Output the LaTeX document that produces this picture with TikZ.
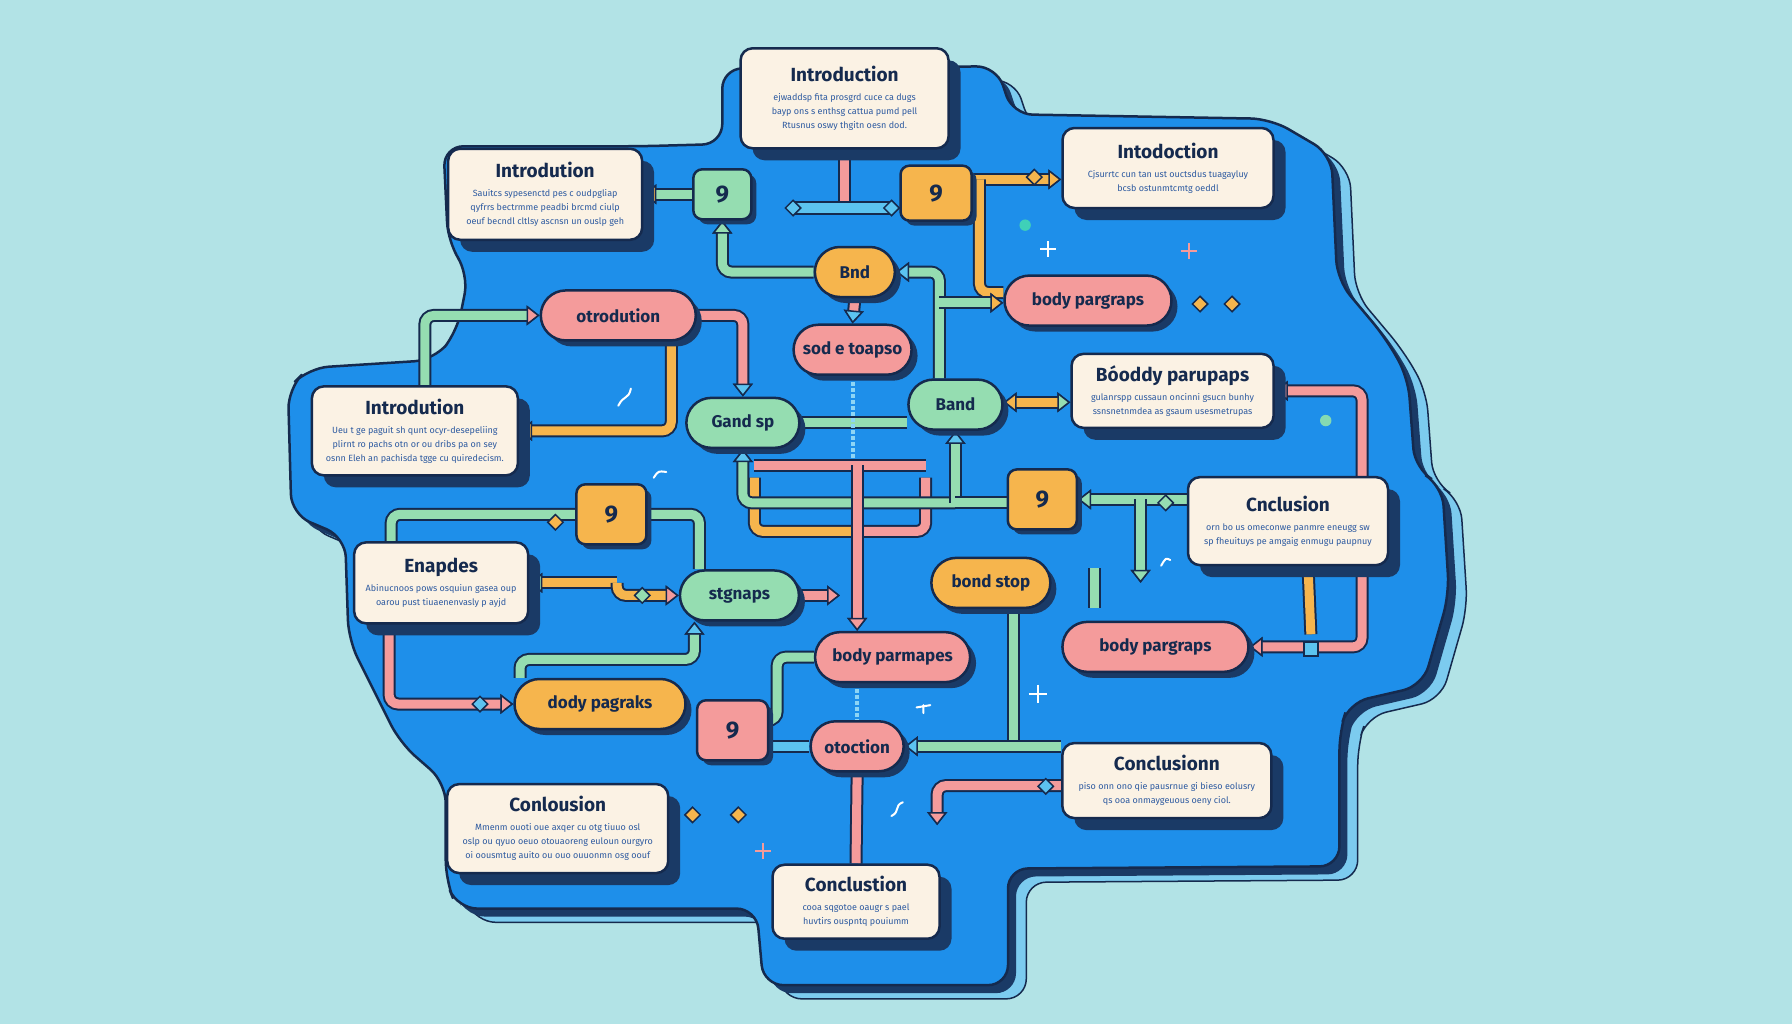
\documentclass[tikz,border=0pt]{standalone}
\usepackage{fontspec}
\setmainfont{Fira Sans}
\usetikzlibrary{arrows.meta,shapes.geometric,shapes.misc,shadows,backgrounds}

\definecolor{bgc}{HTML}{B2E3E6}
\definecolor{blobc}{HTML}{1E8FEA}
\definecolor{navy}{HTML}{152A4E}
\definecolor{shadowc}{HTML}{1A3A66}
\definecolor{layerc}{HTML}{7CCBEF}
\definecolor{cream}{HTML}{FBF2E4}
\definecolor{greenc}{HTML}{95DDB1}
\definecolor{orangec}{HTML}{F6B54D}
\definecolor{pinkc}{HTML}{F49B9B}
\definecolor{cyanc}{HTML}{5CC3F0}
\definecolor{textc}{HTML}{2D5AA0}
\definecolor{dotc}{HTML}{3FD0B8}

\newcommand{\titlefont}{\fontsize{19}{21}\selectfont\bfseries}
\newcommand{\bodyfont}{\fontsize{9}{14}\selectfont}
\newcommand{\pillfont}{\fontsize{17}{19}\selectfont\bfseries}
\newcommand{\cardtitle}[1]{{\color{navy}\titlefont #1}\\[5pt]}

% outline of the blue backdrop
\newcommand{\blobpath}{(388,128) -- (560,128) -- (632,126) -- (632,60) -- (872,58) -- (886,100) -- (1112,104) -- (1165,135) -- (1170,245) -- (1212,295) -- (1232,330) -- (1238,410) -- (1262,425) -- (1268,520) -- (1245,600) -- (1180,615) -- (1172,640) -- (1172,758) -- (882,760) -- (882,862) -- (668,862) -- (662,795) -- (400,795) -- (390,770) -- (390,685) -- (350,650) -- (305,560) -- (302,470) -- (255,450) -- (252,340) -- (270,322) -- (380,315) -- (400,290) -- (410,240) -- (392,212) -- cycle}

\tikzset{
  card/.style 2 args={draw=navy, line width=2.5pt, fill=cream, rounded corners=12pt,
    minimum width=#1, minimum height=#2, align=center, font=\bodyfont, text=textc,
    drop shadow={shadow xshift=12pt, shadow yshift=-12pt, fill=shadowc, opacity=1}},
  pill/.style={rounded rectangle, draw=navy, line width=2.5pt, fill=#1, minimum height=50pt,
    inner xsep=8pt, font=\pillfont, text=navy,
    drop shadow={shadow xshift=6pt, shadow yshift=-6pt, fill=shadowc, opacity=1}},
  nine/.style={draw=navy, line width=2.5pt, fill=#1, rounded corners=9pt, minimum width=66pt,
    minimum height=56pt, font=\fontsize{24}{24}\selectfont\bfseries, text=navy,
    drop shadow={shadow xshift=5pt, shadow yshift=-5pt, fill=shadowc, opacity=1}},
  dmd/.style={diamond, draw=navy, line width=1.5pt, fill=#1, minimum size=16pt, inner sep=0pt},
  pipe/.style={draw=#1, line width=9pt, rounded corners=9pt, preaction={draw=navy, line width=13pt}},
  tip/.style={-{Triangle[length=13pt,width=20pt,line width=1.5pt,color=navy,fill=#1]}},
}

\begin{document}
\begin{tikzpicture}[x=1.142857pt,y=-1.142857pt]
\useasboundingbox (0,0) rectangle (1568,896);

% cards
\node[card={208pt}{100pt}] (c1) at (739,86) {\cardtitle{Introduction}ejwaddsp fita prosgrd cuce ca dugs\\ bayp ons s enthsg cattua pumd pell\\ Rtusnus oswy thgitn oesn dod.};
\node[card={194pt}{91pt}] (c2) at (477,170) {\cardtitle{Introdution}Sauitcs sypesenctd pes c oudpgliap\\ qyfrrs bectrmme peadbi brcmd ciulp\\ oeuf becndl cltlsy ascnsn un ouslp geh};
\node[card={211pt}{80pt}] (c3) at (1022,147) {\cardtitle{Intodoction}Cjsurrtc cun tan ust ouctsdus tuagayluy\\ bcsb ostunmtcmtg oeddl};
\node[card={206pt}{89pt}] (c4) at (363,377) {\cardtitle{Introdution}Ueu t ge paguit sh qunt ocyr-desepeliing\\ plirnt ro pachs otn or ou dribs pa on sey\\ osnn Eleh an pachisda tgge cu quiredecism.};
\node[card={202pt}{74pt}] (c5) at (1026,342) {\cardtitle{Bóoddy parupaps}gulanrspp cussaun oncinni gsucn bunhy\\ ssnsnetnmdea as gsaum usesmetrupas};
\node[card={200pt}{88pt}] (c6) at (1127,456) {\cardtitle{Cnclusion}orn bo us omeconwe panmre eneugg sw\\ sp fheuituys pe amgaig enmugu paupnuy};
\node[card={174pt}{81pt}] (c7) at (386,510) {\cardtitle{Enapdes}Abinucnoos pows osquiun gasea oup\\ oarou pust tiuaenenvasly p ayjd};
\node[card={209pt}{75pt}] (c8) at (1021,683) {\cardtitle{Conclusionn}piso onn ono qie pausrnue gi bieso eolusry\\ qs ooa onmaygeuous oeny ciol.};
\node[card={221pt}{89pt}] (c9) at (488,725) {\cardtitle{Conlousion}Mmenm ouoti oue axqer cu otg tiuuo osl\\ oslp ou qyuo oeuo otouaoreng euloun ourgyro\\ oi oousmtug auito ou ouo ouuonmn osg oouf};
\node[card={167pt}{74pt}] (c10) at (749,789) {\cardtitle{Conclustion}cooa sqgotoe oaugr s pael\\ huvtirs ouspntq pouiumm};

% pills
\node[pill=orangec, minimum width=96pt] (bnd) at (748,238) {Bnd};
\node[pill=pinkc, minimum width=183pt] (bodyA) at (952,263) {body pargraps};
\node[pill=pinkc, minimum width=171pt] (otro) at (541,276) {otrodution};
\node[pill=pinkc, minimum width=134pt] (sode) at (746,306) {sod e toapso};
\node[pill=greenc, minimum width=129pt] (gand) at (650,370) {Gand sp};
\node[pill=greenc, minimum width=110pt] (band) at (836,354) {Band};
\node[pill=greenc, minimum width=135pt] (stg) at (647,521) {stgnaps};
\node[pill=orangec, minimum width=135pt] (bondstop) at (867,510) {bond stop};
\node[pill=pinkc, minimum width=202pt] (bodyB) at (1011,566) {body pargraps};
\node[pill=pinkc, minimum width=171pt] (bodyC) at (781,575) {body parmapes};
\node[pill=orangec, minimum width=187pt] (dody) at (525,616) {dody pagraks};
\node[pill=pinkc, minimum width=109pt] (otoc) at (750,653) {otoction};

% nines
\node[nine=greenc, minimum width=58pt, minimum height=50pt] (n1) at (632,170) {9};
\node[nine=orangec, minimum width=71pt, minimum height=55pt] (n2) at (819,169) {9};
\node[nine=orangec, minimum width=70pt, minimum height=60pt] (n3) at (535,450) {9};
\node[nine=orangec, minimum width=69pt, minimum height=60pt] (n4) at (912,437) {9};
\node[nine=pinkc, minimum width=71pt, minimum height=60pt] (n5) at (641,639) {9};

\node[draw=navy, line width=1.5pt, fill=cyanc, minimum width=97pt, minimum height=12pt, inner sep=0pt] (bar) at (737,182) {};
\node[draw=navy, line width=1.5pt, fill=cyanc, minimum size=14pt, inner sep=0pt] (sq) at (1147,568) {};

\coordinate (oj) at (857,157);
\coordinate (gj) at (822,265);
\coordinate (mj) at (911,352);
\coordinate (fb) at (836,440);
\coordinate (tl) at (660,407);
\coordinate (tr) at (810,407);
\coordinate (tm) at (750,407);
\coordinate (ua) at (660,418);
\coordinate (um) at (750,465);
\coordinate (ub) at (810,418);
\coordinate (sj) at (540,510);
\coordinate (se) at (735,521);
\coordinate (gk) at (680,575);
\coordinate (pe) at (820,722);
\coordinate (gv) at (998,437);
\coordinate (gd) at (998,510);
\coordinate (oq) at (1147,555);
\coordinate (gs1) at (958,497);
\coordinate (gs2) at (958,532);

\begin{scope}[on background layer]
\fill[bgc] (0,0) rectangle (1568,896);
\filldraw[fill=layerc, draw=navy, line width=1.5pt, rounded corners=20pt, shift={(16,12)}] \blobpath;
\fill[shadowc, rounded corners=20pt, shift={(7,7)}] \blobpath;
\filldraw[fill=blobc, draw=navy, line width=2.5pt, rounded corners=20pt] \blobpath;

% connectors
\draw[pipe=pinkc] (c1.south) -- (c1.south |- bar.north);
\draw[pipe=greenc, tip=orangec] (n1.west) -- (c2.east);
\draw[pipe=greenc, tip=greenc] (bnd.west) -| (n1.south);
\draw[pipe=pinkc, tip=cyanc] (bnd.south) -- (sode.north);
\draw[pipe=orangec, tip=orangec] (n2.east |- oj) -- (c3.west |- oj);
\draw[pipe=orangec] (oj) |- ([yshift=8pt]bodyA.west);
\draw[pipe=greenc, tip=cyanc] (band.north -| gj) |- (bnd.east);
\draw[pipe=greenc, tip=orangec] (gj) -- (gj -| bodyA.west);
\draw[pipe=pinkc, tip=cyanc] (otro.east) -| (gand.north);
\draw[pipe=greenc, tip=pinkc] ([xshift=10pt]c4.north) |- (otro.west);
\draw[pipe=orangec, tip=orangec] ([xshift=53pt]otro.south) |- (c4.east);
\draw[pipe=greenc] (gand.east) -- (gand.east -| band.west);
\draw[cyanc!70, line width=4pt, dotted] (sode.south) -- ++(0,72);
\draw[pipe=orangec] (ua) |- (um);
\draw[pipe=pinkc] (um) -| (ub);
\draw[pipe=greenc, tip=cyanc] (fb) -| (gand.south);
\draw[pipe=greenc, tip=cyanc] (fb) -- (band.south);
\draw[pipe=greenc] (fb) -- (n4.west |- fb);
\draw[pipe=pinkc] (tl) -- (tr);
\draw[pipe=pinkc, tip=pinkc] (tm) -- (tm |- bodyC.north);
\draw[pipe=greenc] ([xshift=-50pt]c7.north) |- (n3.west);
\draw[pipe=greenc] (n3.east) -| ([xshift=-40pt]stg.north);
\draw[pipe=orangec, tip=greenc] (sj) -- (c7.east);
\draw[pipe=orangec, tip=pinkc] (sj) |- (stg.west);
\draw[pipe=pinkc, tip=pinkc] (stg.east) -- (se);
\draw[pipe=greenc, tip=cyanc] ([xshift=-80pt]dody.north) -- ++(0,-16) -| ([xshift=-45pt]stg.south);
\draw[pipe=pinkc, tip=pinkc] ([xshift=-52pt]c7.south) |- (dody.west);
\draw[pipe=greenc] (bodyC.west) -- (gk) |- ([yshift=10pt]n5.east);
\draw[pipe=cyanc] (n5.east |- otoc.west) -- (otoc.west);
\draw[cyanc!70, line width=4pt, dotted] (bodyC.south -| otoc.north) -- (otoc.north);
\draw[pipe=pinkc] (otoc.south) -- (c10.north);
\draw[pipe=greenc] ([xshift=23pt]bondstop.south) -- ([xshift=23pt]bondstop.south |- otoc.east);
\draw[pipe=greenc, tip=cyanc] (c8.west |- otoc.east) -- (otoc.east);
\draw[pipe=pinkc, tip=pinkc] ([yshift=-5pt]c8.west) -| (pe);
\draw[pipe=pinkc, tip=pinkc] ([xshift=74pt]c6.south) |- (bodyB.east);
\draw[pipe=orangec] ([xshift=20pt]c6.south) -- (oq);
\draw[pipe=pinkc, tip=pinkc] ([xshift=74pt]c6.north) |- (c5.east);
\draw[pipe=orangec, tip=orangec] (mj) -- (band.east |- mj);
\draw[pipe=orangec, tip=greenc] (mj) -- (c5.west |- mj);
\draw[pipe=greenc, tip=greenc] (c6.west |- n4.east) -- (n4.east);
\draw[pipe=greenc, tip=greenc] (gv) -- (gd);
\draw[pipe=greenc] (gs1) -- (gs2);
\end{scope}

% small marks
\node[dmd=cyanc] (bw) at (bar.west) {};
\node[dmd=cyanc] (be) at (bar.east) {};
\node[dmd=orangec] (d1) at (905,155) {};
\node[dmd=orangec] (d2) at (1050,266) {};
\node[dmd=orangec] (d3) at (1078,266) {};
\node[dmd=orangec] (d4) at (486,457) {};
\node[dmd=greenc] (d5) at (562,521) {};
\node[dmd=cyanc] (d6) at (420,616) {};
\node[dmd=cyanc] (d7) at (915,688) {};
\node[dmd=orangec] (d8) at (606,713) {};
\node[dmd=orangec] (d9) at (646,713) {};
\node[dmd=greenc] (d10) at (1020,440) {};

\fill[dotc] (897,197) circle (5);
\fill[greenc!80!dotc] (1160,368) circle (5);
\draw[white, line width=2pt] (910,218) -- (924,218) (917,211) -- (917,225);
\draw[pinkc, line width=2pt] (1033,220) -- (1047,220) (1040,213) -- (1040,227);
\draw[white, line width=2pt] (900,607) -- (916,607) (908,599) -- (908,615);
\draw[pinkc, line width=2pt] (661,745) -- (675,745) (668,738) -- (668,752);
\draw[white, line width=2pt, line cap=round] (541,355) .. controls (546,345) and (550,350) .. (552,340);
\draw[white, line width=2pt, line cap=round] (572,418) .. controls (576,412) .. (583,413);
\draw[white, line width=2pt, line cap=round] (1016,495) .. controls (1020,488) .. (1024,490);
\draw[white, line width=2pt, line cap=round] (802,619) -- (814,617) (808,617) -- (808,624);
\draw[white, line width=2pt, line cap=round] (780,714) .. controls (788,710) and (782,705) .. (790,702);
\end{tikzpicture}
\end{document}
